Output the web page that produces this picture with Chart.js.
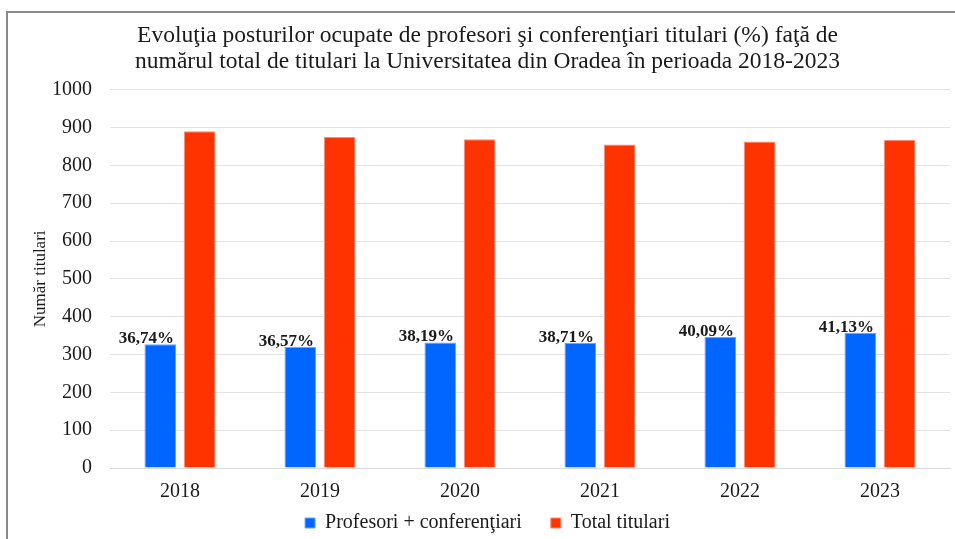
<!DOCTYPE html>
<html>
<head>
<meta charset="utf-8">
<script src="https://cdn.jsdelivr.net/npm/chart.js@4.4.1/dist/chart.umd.min.js"></script>
<style>
  body{margin:0;background:#fff}
  #wrap{position:relative;width:955px;height:539px;overflow:hidden}
  #frame{position:absolute;left:6px;top:11px;width:960px;height:540px;border-left:2px solid #8a8a8a;border-top:2px solid #8a8a8a;pointer-events:none}
  canvas{position:absolute;left:0;top:0}
</style>
</head>
<body>
<div id="wrap">
  <div id="frame"></div>
  <canvas id="chart" width="955" height="539"></canvas>
</div>
<script>
const ani=['2018','2019','2020','2021','2022','2023']
const profesoriConf=[327,320,332,331,346,357]
const totalTitulari=[890,875,869,855,863,868]
const procente=['36,74%','36,57%','38,19%','38,71%','40,09%','41,13%']
const titlu=['Evoluţia posturilor ocupate de profesori şi conferenţiari titulari (%) faţă de','numărul total de titulari la Universitatea din Oradea în perioada 2018-2023']

const serif='"Liberation Serif", "Times New Roman", serif'

// etichetele cu procente deasupra barelor albastre
const etichete={
  id:'etichete',
  afterDatasetsDraw(chart){
    const ctx=chart.ctx
    const meta=chart.getDatasetMeta(0)
    ctx.save()
    ctx.font='bold 17px '+serif
    ctx.fillStyle='#1a1a1a'
    ctx.textAlign='center'
    ctx.textBaseline='alphabetic'
    meta.data.forEach((bar,i)=>{
      ctx.fillText(procente[i], bar.x-14, bar.y-1)
    })
    ctx.restore()
  }
}

new Chart(document.getElementById('chart'),{
  type:'bar',
  data:{
    labels:ani,
    datasets:[{
      label:'Profesori + conferenţiari',
      data:profesoriConf,
      backgroundColor:'#0066ff',
      borderColor:'#6fa3ff',
      borderWidth:1,
      categoryPercentage:0.564,
      barPercentage:0.8
    },{
      label:'Total titulari',
      data:totalTitulari,
      backgroundColor:'#ff3300',
      borderColor:'#ff8a70',
      borderWidth:1,
      categoryPercentage:0.564,
      barPercentage:0.8
    }]
  },
  options:{
    responsive:false,
    animation:false,
    layout:{padding:{left:25,right:5,top:0,bottom:-4}},
    plugins:{
      title:{
        display:true,
        text:titlu,
        color:'#1a1a1a',
        font:{family:serif,size:23.5,weight:'normal',lineHeight:1.1},
        padding:{top:23,bottom:15}
      },
      legend:{
        position:'bottom',
        labels:{
          color:'#1a1a1a',
          font:{family:serif,size:20},
          boxWidth:10,
          boxHeight:10,
          padding:4,
          generateLabels(chart){
            const items=Chart.defaults.plugins.legend.labels.generateLabels(chart)
            // spatiu mai mare intre cele doua elemente ale legendei
            items[0].text=items[0].text+'\u2003 '
            return items
          }
        }
      },
      tooltip:{enabled:false}
    },
    scales:{
      x:{
        afterFit(s){s.height=41},
        grid:{display:false,drawTicks:false},
        border:{display:true,color:'#d9d9d9'},
        ticks:{color:'#1a1a1a',font:{family:serif,size:20},padding:12}
      },
      y:{
        min:0,
        max:1000,
        afterFit(s){s.width=85},
        ticks:{stepSize:100,color:'#1a1a1a',font:{family:serif,size:20},padding:18,callback:v=>String(v)},
        grid:{color:'#e3e3e3',drawTicks:false},
        border:{display:false},
        title:{display:true,text:'Număr titulari',color:'#1a1a1a',font:{family:serif,size:17},padding:{top:5,bottom:0}}
      }
    }
  },
  plugins:[etichete]
})
</script>
</body>
</html>
